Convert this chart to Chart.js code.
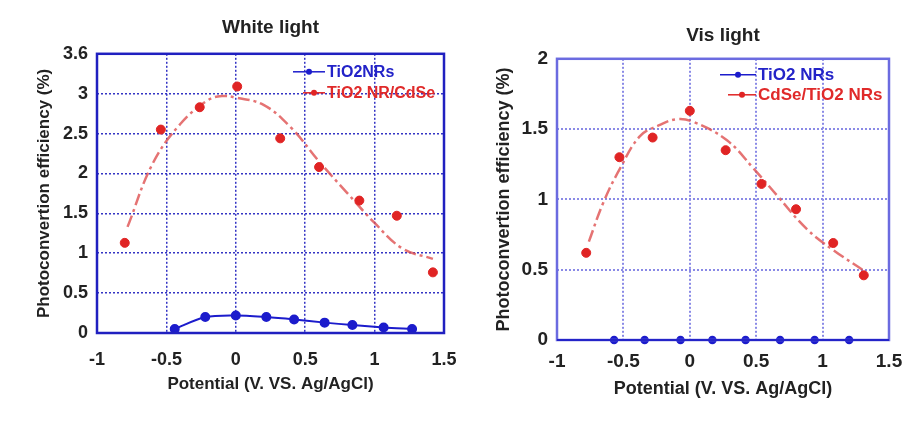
<!DOCTYPE html>
<html>
<head>
<meta charset="utf-8">
<script src="https://cdn.jsdelivr.net/npm/chart.js@4"></script>
<style>
  body { margin: 0; background: #fff; }
  .panel { position: absolute; top: 0; }
</style>
</head>
<body>
<div class="panel" style="left:0px"><canvas id="whiteChart" width="460" height="431"></canvas></div>
<div class="panel" style="left:460px"><canvas id="visChart" width="459" height="431"></canvas></div>
<script>
// ========== data ==========
const xTicks = [-1, -0.5, 0, 0.5, 1, 1.5];
const whiteYTicks = ['0', '0.5', '1', '1.5', '2', '2.5', '3', '3.6'];
const visYTicks = ['0', '0.5', '1', '1.5', '2'];

// White light
const whiteTio2X = [-0.44, -0.22, 0.0, 0.22, 0.42, 0.64, 0.84, 1.065, 1.27];
const whiteTio2Y = [0.05, 0.20, 0.22, 0.20, 0.17, 0.13, 0.10, 0.07, 0.05];
const whiteCdseX = [-0.80, -0.54, -0.26, 0.01, 0.32, 0.60, 0.89, 1.16, 1.42];
const whiteCdseY = [1.13, 2.55, 2.83, 3.09, 2.44, 2.08, 1.66, 1.47, 0.76];
const whiteFitX = [-0.78, -0.6, -0.4, -0.2, -0.1, 0, 0.2, 0.4, 0.6, 0.8, 1.0, 1.2, 1.42];
const whiteFitY = [1.33, 2.12, 2.62, 2.92, 2.97, 2.95, 2.86, 2.57, 2.15, 1.76, 1.38, 1.06, 0.93];

// Vis light
const visTio2X = [-0.57, -0.34, -0.07, 0.17, 0.42, 0.68, 0.94, 1.20];
const visTio2Y = [0, 0, 0, 0, 0, 0, 0, 0];
const visCdseX = [-0.78, -0.53, -0.28, 0.0, 0.27, 0.54, 0.80, 1.08, 1.31];
const visCdseY = [0.62, 1.30, 1.44, 1.63, 1.35, 1.11, 0.93, 0.69, 0.46];
const visFitX = [-0.76, -0.65, -0.525, -0.375, -0.225, -0.1, 0.03, 0.28, 0.48, 0.655, 0.88, 1.08, 1.30];
const visFitY = [0.70, 0.98, 1.22, 1.45, 1.53, 1.57, 1.55, 1.42, 1.22, 1.03, 0.79, 0.64, 0.50];

const BLUE = '#1c1ccc';
const RED = '#e02424';
const FIT_RED = 'rgba(222,80,80,0.8)';
const FONT = 'Arial, "Liberation Sans", sans-serif';

const pts = (xs, ys) => xs.map((x, i) => ({ x: x, y: ys[i] }));

// frame round the plot area
const framePlugin = {
    id: 'frame',
    afterDraw(chart, args, opts) {
        const { ctx, chartArea: a } = chart;
        ctx.save();
        ctx.strokeStyle = opts.color;
        ctx.lineWidth = 2.5;
        ctx.strokeRect(a.left, a.top, a.right - a.left, a.bottom - a.top);
        if (opts.axisColor) {
            ctx.strokeStyle = opts.axisColor;
            ctx.lineWidth = 2;
            ctx.beginPath();
            ctx.moveTo(a.left, a.bottom);
            ctx.lineTo(a.right, a.bottom);
            ctx.stroke();
        }
        ctx.restore();
    }
};

// legend drawn inside the plot, top right
const legendPlugin = {
    id: 'insideLegend',
    afterDraw(chart, args, opts) {
        const { ctx, chartArea: a } = chart;
        ctx.save();
        ctx.font = 'bold ' + opts.fontSize + 'px ' + FONT;
        ctx.textBaseline = 'middle';
        let row = 0;
        chart.data.datasets.forEach(ds => {
            if (!ds.label) return;
            const y = a.top + opts.top + row * opts.rowGap;
            const x0 = a.left + opts.lineStart[row];
            const x1 = a.left + opts.textX - 2;
            ctx.strokeStyle = ds.borderColor;
            ctx.lineWidth = 1.5;
            ctx.beginPath();
            ctx.moveTo(x0, y);
            ctx.lineTo(x1, y);
            ctx.stroke();
            ctx.fillStyle = ds.pointBackgroundColor;
            ctx.beginPath();
            ctx.arc((x0 + x1) / 2, y, 3, 0, Math.PI * 2);
            ctx.fill();
            ctx.fillStyle = ds.legendColor;
            ctx.fillText(ds.label, a.left + opts.textX, y + 1);
            row++;
        });
        ctx.restore();
    }
};

function makeChart(id, cfg) {
    return new Chart(document.getElementById(id), {
        type: 'line',
        data: { datasets: cfg.datasets },
        options: {
            responsive: false,
            animation: false,
            devicePixelRatio: 1,
            layout: { padding: { left: 0, right: cfg.padRight, top: 0, bottom: 0 } },
            plugins: {
                legend: { display: false },
                tooltip: { enabled: false },
                title: {
                    display: true,
                    text: cfg.title,
                    fullSize: false,
                    color: '#222',
                    font: { family: FONT, size: 19, weight: 'bold', lineHeight: 1.2 },
                    padding: cfg.titlePad
                },
                frame: { color: cfg.frameColor, axisColor: cfg.axisColor },
                insideLegend: cfg.legend
            },
            scales: {
                x: {
                    type: 'linear',
                    min: -1, max: 1.5,
                    afterBuildTicks: s => { s.ticks = xTicks.map(v => ({ value: v })); },
                    afterFit: s => { s.height = cfg.xHeight; s.paddingLeft = 0; s.paddingRight = 0; },
                    grid: { color: cfg.gridColor, lineWidth: cfg.gridWidth, drawTicks: false },
                    border: { display: false, dash: [2, 2] },
                    ticks: {
                        padding: cfg.xTickPad,
                        color: '#222',
                        font: { family: FONT, size: cfg.tickSize, weight: 'bold' },
                        callback: v => String(v)
                    },
                    title: {
                        display: true,
                        text: 'Potential (V. VS. Ag/AgCl)',
                        color: '#222',
                        font: { family: FONT, size: cfg.axisTitleSize, weight: 'bold', lineHeight: 1.2 },
                        padding: { top: 0, bottom: cfg.xTitleBottom }
                    }
                },
                y: {
                    type: 'linear',
                    min: 0, max: cfg.yMax,
                    afterBuildTicks: s => { s.ticks = cfg.yTicks.map((t, i) => ({ value: i * 0.5 })); },
                    afterFit: s => { s.width = 97; },
                    grid: { color: cfg.gridColor, lineWidth: cfg.gridWidth, drawTicks: false },
                    border: { display: false, dash: [2, 2] },
                    ticks: {
                        padding: 9,
                        color: '#222',
                        font: { family: FONT, size: cfg.tickSize, weight: 'bold' },
                        callback: (v, i) => cfg.yTicks[i]
                    },
                    title: {
                        display: true,
                        text: 'Photoconvertion efficiency (%)',
                        color: '#222',
                        font: { family: FONT, size: cfg.axisTitleSize, weight: 'bold', lineHeight: 1.2 },
                        padding: { top: cfg.yTitleLeft, bottom: 0 }
                    }
                }
            }
        },
        plugins: [framePlugin, legendPlugin]
    });
}

// ========== White light ==========
makeChart('whiteChart', {
    title: 'White light',
    titlePad: { top: 16, bottom: 15 },
    padRight: 16,
    xHeight: 98,
    xTickPad: 16,
    xTitleBottom: 36,
    yTitleLeft: 34,
    yMax: 3.5,
    yTicks: whiteYTicks,
    tickSize: 18,
    axisTitleSize: 17,
    gridColor: '#3434c4',
    gridWidth: 1.5,
    frameColor: '#2020c0',
    legend: { fontSize: 16, top: 18, rowGap: 21, textX: 230, lineStart: [196, 206] },
    datasets: [
        {
            label: 'TiO2NRs',
            data: pts(whiteTio2X, whiteTio2Y),
            borderColor: BLUE, pointBackgroundColor: BLUE, pointBorderColor: BLUE, legendColor: '#2323c8',
            borderWidth: 2, pointRadius: 4, tension: 0.3
        },
        {
            label: 'TiO2 NR/CdSe',
            data: pts(whiteCdseX, whiteCdseY),
            showLine: false,
            borderColor: RED, pointBackgroundColor: RED, pointBorderColor: RED, legendColor: '#e02a2a',
            pointRadius: 4.5
        },
        {
            label: '',
            data: pts(whiteFitX, whiteFitY),
            borderColor: FIT_RED, borderWidth: 2.5, borderDash: [12, 4, 3, 4],
            pointRadius: 0, tension: 0.4
        }
    ]
});

// ========== Vis light ==========
makeChart('visChart', {
    title: 'Vis light',
    titlePad: { top: 24, bottom: 12 },
    padRight: 30,
    xHeight: 91,
    xTickPad: 10,
    xTitleBottom: 31,
    yTitleLeft: 33,
    yMax: 2,
    yTicks: visYTicks,
    tickSize: 19,
    axisTitleSize: 18,
    gridColor: '#8a8ae6',
    gridWidth: 2,
    frameColor: '#6b6be0',
    axisColor: '#2424c8',
    legend: { fontSize: 17, top: 16, rowGap: 20, textX: 201, lineStart: [163, 171] },
    datasets: [
        {
            label: 'TiO2 NRs',
            data: pts(visTio2X, visTio2Y),
            borderColor: BLUE, pointBackgroundColor: BLUE, pointBorderColor: BLUE, legendColor: '#2323c8',
            borderWidth: 1.5, pointRadius: 3.5, clip: false
        },
        {
            label: 'CdSe/TiO2 NRs',
            data: pts(visCdseX, visCdseY),
            showLine: false,
            borderColor: RED, pointBackgroundColor: RED, pointBorderColor: RED, legendColor: '#e02a2a',
            pointRadius: 4.5
        },
        {
            label: '',
            data: pts(visFitX, visFitY),
            borderColor: FIT_RED, borderWidth: 2.5, borderDash: [12, 4, 3, 4],
            pointRadius: 0, tension: 0.4
        }
    ]
});
</script>
</body>
</html>
